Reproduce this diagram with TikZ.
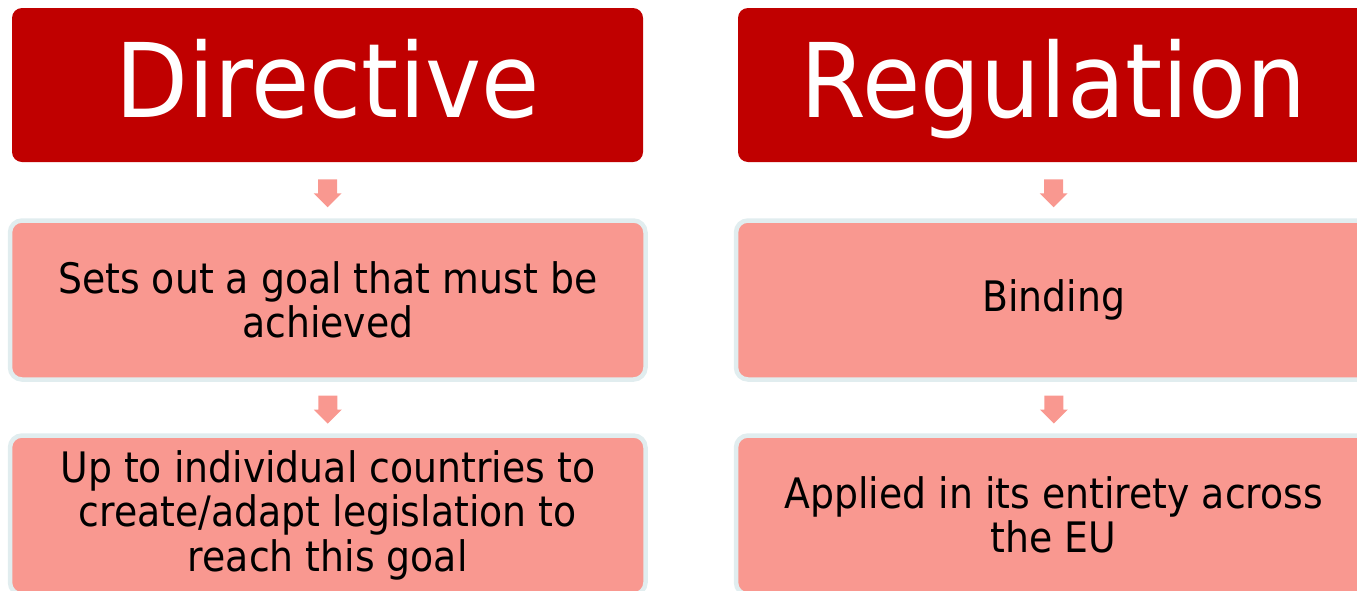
\documentclass[tikz,border=0pt]{standalone}
\usepackage{fontspec}
\setmainfont{DejaVu Sans}[FakeStretch=0.9]
\newfontfamily\titlefont{DejaVu Sans}[FakeStretch=0.92]
\definecolor{titlered}{HTML}{C00000}
\definecolor{boxpink}{HTML}{F99890}
\definecolor{boxedge}{HTML}{E1EDEF}
\tikzset{
  titlebox/.style={rectangle, rounded corners=10pt, fill=titlered, text=white,
    minimum width=631pt, minimum height=154pt, inner sep=0pt, outer sep=0pt,
    font=\titlefont\fontsize{103}{110}\selectfont, text height=78pt, text depth=14pt},
  pinkbox/.style={rectangle, rounded corners=12pt, fill=boxpink, draw=boxedge,
    line width=4.5pt, minimum width=635.5pt, minimum height=159pt, inner sep=0pt,
    outer sep=0pt, align=center, text=black,
    font=\fontsize{42}{44.5}\selectfont},
  downarrow/.style={fill=boxpink}
}
\newcommand{\blockarrow}[1]{%
  \fill[downarrow] ($(#1)+(-9.5,-12)$) -- ($(#1)+(9.5,-12)$) -- ($(#1)+(9.5,2)$)
    -- ($(#1)+(14,2)$) -- ($(#1)+(0,16)$) -- ($(#1)+(-14,2)$) -- ($(#1)+(-9.5,2)$) -- cycle;}
\usetikzlibrary{calc}
\begin{document}
\begin{tikzpicture}[x=1pt,y=-1pt]
\useasboundingbox (0,0) rectangle (1357,590);
\clip (0,0) rectangle (1357,590);
% left column
\node[titlebox] (dt) at (327.5,85) {Directive};
\node[pinkbox] (d1) at (327.75,300) {Sets out a goal that must be\\achieved};
\node[pinkbox] (d2) at (327.75,515) {Up to individual countries to\\create/adapt legislation to\\reach this goal};
% right column
\node[titlebox] (rt) at (1053.5,85) {Regulation};
\node[pinkbox] (r1) at (1053.75,300) {Binding};
\node[pinkbox] (r2) at (1053.75,515) {Applied in its entirety across\\the EU};
% arrows
\path (dt.south) -- (d1.north) coordinate[midway] (ma1);
\path (d1.south) -- (d2.north) coordinate[midway] (ma2);
\path (rt.south) -- (r1.north) coordinate[midway] (mb1);
\path (r1.south) -- (r2.north) coordinate[midway] (mb2);
\blockarrow{ma1}
\blockarrow{ma2}
\blockarrow{mb1}
\blockarrow{mb2}
\end{tikzpicture}
\end{document}
